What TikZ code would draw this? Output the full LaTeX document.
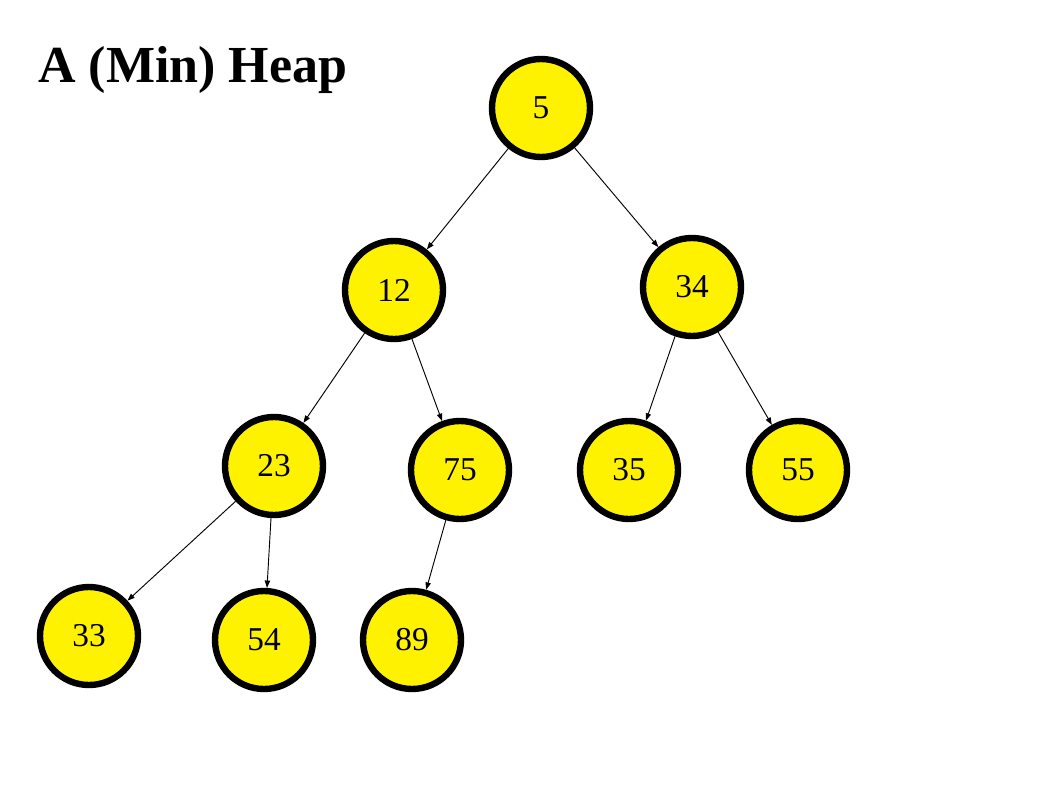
\documentclass[tikz,border=0pt]{standalone}
\usepackage{fontspec}
\setmainfont{Liberation Serif}
\usetikzlibrary{arrows.meta}
\begin{document}
\begin{tikzpicture}[x=0.75pt,y=-0.75pt,
  heapnode/.style={circle,draw=black,fill=yellow,line width=4.8pt,minimum size=73.5pt,inner sep=0pt,font=\fontsize{25}{28}\selectfont},
  edge/.style={draw=black,line width=0.7pt,-{Triangle[length=5.5pt,width=4pt]}}]
\useasboundingbox (0,0) rectangle (1058,793);
\node[anchor=base west,inner sep=0pt,font=\fontsize{39}{44}\selectfont\bfseries] (title) at (38,82) {A (Min) Heap};
\node[heapnode] (n5) at (541,108) {5};
\node[heapnode] (n12) at (394,290) {12};
\node[heapnode] (n34) at (692,287) {34};
\node[heapnode] (n23) at (274,466) {23};
\node[heapnode] (n75) at (460,470) {75};
\node[heapnode] (n35) at (629,470) {35};
\node[heapnode] (n55) at (798,470) {55};
\node[heapnode] (n33) at (89,636) {33};
\node[heapnode] (n54) at (264,640) {54};
\node[heapnode] (n89) at (412,640) {89};
\draw[edge] (n5) -- (n12);
\draw[edge] (n5) -- (n34);
\draw[edge] (n12) -- (n23);
\draw[edge] (n12) -- (n75);
\draw[edge] (n34) -- (n35);
\draw[edge] (n34) -- (n55);
\draw[edge] (n23) -- (n33);
\draw[edge] (n23) -- (n54);
\draw[edge] (n75) -- (n89);
\end{tikzpicture}
\end{document}
